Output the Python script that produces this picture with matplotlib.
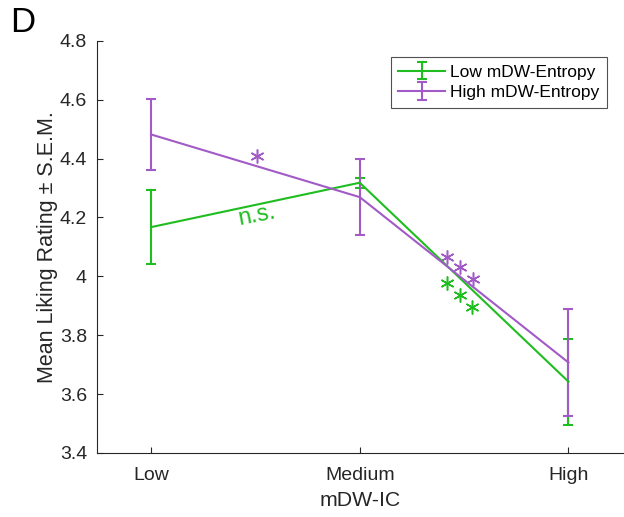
import numpy as np
import matplotlib
matplotlib.use("Agg")
import matplotlib.pyplot as plt

plt.rcParams["font.family"] = ["Liberation Sans", "DejaVu Sans"]

# ---------------------------------------------------------------- data
categories = ["Low", "Medium", "High"]
low_mean = [4.167, 4.318, 3.642]
low_sem = [0.125, 0.017, 0.146]
high_mean = [4.482, 4.269, 3.707]
high_sem = [0.120, 0.128, 0.182]

# significance markers (x in category units, y in rating units)
star_low_high_x = [1.507]
star_low_high_y = [4.41]
star_med_high_purple_x = [2.416, 2.478, 2.541]
star_med_high_purple_y = [4.067, 4.030, 3.990]
star_med_high_green_x = [2.420, 2.478, 2.536]
star_med_high_green_y = [3.976, 3.935, 3.894]

GREEN = "#1fbd1f"
PURPLE = "#a25ac6"
DARK = "#262626"

# ---------------------------------------------------------------- plot
fig = plt.figure(figsize=(6.24, 5.17), dpi=100)
ax = fig.add_axes([0.155, 0.124, 0.843, 0.797])

x = np.arange(1, len(categories) + 1)
ax.errorbar(x, low_mean, yerr=low_sem, color=GREEN, lw=1.5, capsize=3.5,
            capthick=1.5, label="Low mDW-Entropy")
ax.errorbar(x, high_mean, yerr=high_sem, color=PURPLE, lw=1.5, capsize=3.5,
            capthick=1.5, label="High mDW-Entropy")

star = (6, 2, 0)
ax.plot(star_low_high_x, star_low_high_y, ls="none", marker=star, ms=10,
        mec=PURPLE, mew=1.1)
ax.plot(star_med_high_purple_x, star_med_high_purple_y, ls="none", marker=star,
        ms=10, mec=PURPLE, mew=1.1)
ax.plot(star_med_high_green_x, star_med_high_green_y, ls="none", marker=star,
        ms=10, mec=GREEN, mew=1.1)
ax.text(1.505, 4.208, "n.s.", color=GREEN, fontsize=17, rotation=11,
        ha="center", va="center")

ax.set_xlim(0.74, 3.26)
ax.set_ylim(3.4, 4.8)
ax.set_xticks(x)
ax.set_xticklabels(categories)
ax.set_yticks(np.arange(3.4, 4.81, 0.2))
ax.set_yticklabels(["3.4", "3.6", "3.8", "4", "4.2", "4.4", "4.6", "4.8"])
ax.tick_params(direction="in", labelsize=14, length=4, width=0.8,
               colors=DARK)
ax.tick_params(axis="x", pad=10)
ax.tick_params(axis="y", pad=7)
for side in ("top", "right"):
    ax.spines[side].set_visible(False)
for side in ("left", "bottom"):
    ax.spines[side].set_color(DARK)
    ax.spines[side].set_linewidth(0.8)

ax.set_xlabel("mDW-IC", fontsize=15.3, color=DARK, labelpad=5)
ax.set_ylabel("Mean Liking Rating \u00b1 S.E.M.", fontsize=15.5, color=DARK,
              labelpad=1)

leg = ax.legend(loc="upper right", bbox_to_anchor=(0.971, 0.961), fontsize=12.5,
                frameon=True, fancybox=False, handlelength=2.7,
                borderpad=0.45, labelspacing=0.3, handletextpad=0.3,
                borderaxespad=0)
leg.get_frame().set_edgecolor(DARK)
leg.get_frame().set_linewidth(0.8)

fig.text(0.016, 0.988, "D", fontsize=25, ha="left", va="top")

fig.savefig("out.png", dpi=100)
